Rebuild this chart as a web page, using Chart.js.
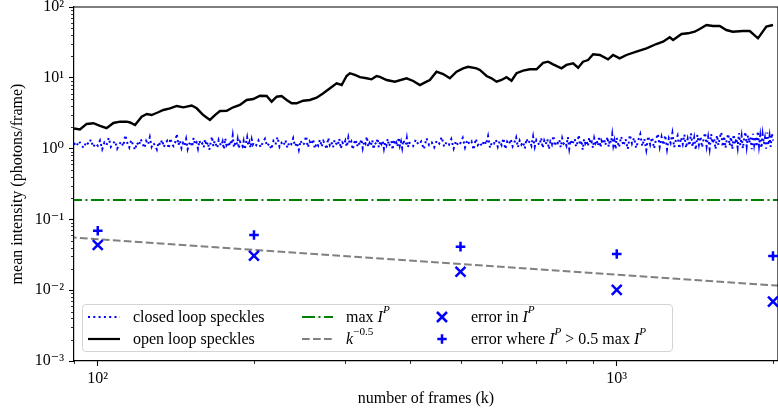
<!DOCTYPE html>
<html><head><meta charset="utf-8">
<script src="https://cdn.jsdelivr.net/npm/chart.js@4.4.1/dist/chart.umd.min.js"></script>
<style>
html,body{margin:0;padding:0;background:#fff;}
#wrap{position:relative;width:778px;height:408px;overflow:hidden;}
#c{position:absolute;left:0;top:0;}
#legend{position:absolute;left:82px;top:304px;width:591px;height:48px;box-sizing:border-box;border:1px solid #d4d4d4;border-radius:4px;background:rgba(255,255,255,0.8);font-family:'Liberation Serif','DejaVu Serif',serif;font-size:16px;color:#000;}
.item{position:absolute;height:20px;line-height:20px;white-space:nowrap;}
.h{position:absolute;}
sup{font-size:70%;position:relative;top:-0.2em;vertical-align:super;line-height:0;}
</style></head><body>
<div id="wrap"><canvas id="c" width="778" height="408"></canvas>
<div id="legend">
  <svg class="h" style="left:5px;top:6px" width="32" height="12"><line x1="0" y1="6" x2="32" y2="6" stroke="#0000ff" stroke-width="2" stroke-dasharray="2 3.3"/></svg>
  <div class="item" style="left:50px;top:2px">closed loop speckles</div>
  <svg class="h" style="left:5px;top:28px" width="32" height="12"><line x1="0" y1="6" x2="32" y2="6" stroke="#000" stroke-width="2.2"/></svg>
  <div class="item" style="left:50px;top:24px">open loop speckles</div>
  <svg class="h" style="left:219px;top:6px" width="31" height="12"><line x1="0" y1="6" x2="31" y2="6" stroke="#008000" stroke-width="2" stroke-dasharray="13 3.5 2 3.5"/></svg>
  <div class="item" style="left:263px;top:2px">max <i>I</i><sup><i>P</i></sup></div>
  <svg class="h" style="left:219px;top:28px" width="31" height="12"><line x1="0" y1="6" x2="31" y2="6" stroke="#808080" stroke-width="2" stroke-dasharray="7.7 3.3"/></svg>
  <div class="item" style="left:263px;top:24px"><i>k</i><sup>−0.5</sup></div>
  <svg class="h" style="left:353px;top:6px" width="12" height="12"><path d="M1,1 L11,11 M11,1 L1,11" stroke="#0000ff" stroke-width="2.5"/></svg>
  <div class="item" style="left:388px;top:2px">error in <i>I</i><sup><i>P</i></sup></div>
  <svg class="h" style="left:353px;top:28px" width="12" height="12"><path d="M6,1.3 L6,10.7 M1.3,6 L10.7,6" stroke="#0000ff" stroke-width="2.5"/></svg>
  <div class="item" style="left:388px;top:24px">error where <i>I</i><sup><i>P</i></sup> &gt; 0.5 max <i>I</i><sup><i>P</i></sup></div>
</div>
</div>
<script>
// ---- data ----
const closedK = [90,91,92,93,94,95,96,97,98,99,100,101,102,103,104,105,106,107,108,109,110,111,112,113,114,115,116,117,118,119,
120,121,122,123,124,125,126,127,128,129,130,131,132,133,134,135,136,137,138,139,140,141,142,143,144,145,146,147,148,149,
150,151,152,153,154,155,156,157,158,159,160,161,162,163,164,165,166,167,168,169,170,171,172,173,174,175,176,177,178,179,
180,181,182,183,184,185,186,187,188,189,190,191,192,193,194,195,196,197,198,199,200,
202,204,206,208,210,212,214,216,218,220,222,224,226,228,230,232,234,236,238,240,242,244,246,248,250,252,254,256,258,260,
262,264,266,268,270,272,274,276,278,280,282,284,286,288,290,292,294,296,298,300,302,304,306,308,310,312,314,316,318,320,
322,324,326,328,330,332,334,336,338,340,342,344,346,348,350,352,354,356,358,360,362,364,366,368,370,372,374,376,378,380,
382,384,386,388,390,392,394,396,398,400,
405,410,415,420,425,430,435,440,445,450,455,460,465,470,475,480,485,490,495,500,505,510,515,520,525,530,535,540,545,550,
555,560,565,570,575,580,585,590,595,600,605,610,615,620,625,630,635,640,645,650,655,660,665,670,675,680,685,690,695,700,
705,710,715,720,725,730,735,740,745,750,755,760,765,770,775,780,785,790,795,800,805,810,815,820,825,830,835,840,845,850,
855,860,865,870,875,880,885,890,895,900,905,910,915,920,925,930,935,940,945,950,955,960,965,970,975,980,985,990,995,1000,
1010,1020,1030,1040,1050,1060,1070,1080,1090,1100,1110,1120,1130,1140,1150,1160,1170,1180,1190,1200,
1210,1220,1230,1240,1250,1260,1270,1280,1290,1300,1310,1320,1330,1340,1350,1360,1370,1380,1390,1400,
1410,1420,1430,1440,1450,1460,1470,1480,1490,1500,1510,1520,1530,1540,1550,1560,1570,1580,1590,1600,
1610,1620,1630,1640,1650,1660,1670,1680,1690,1700,1710,1720,1730,1740,1750,1760,1770,1780,1790,1800,
1810,1820,1830,1840,1850,1860,1870,1880,1890,1900,1910,1920,1930,1940,1950,1960,1970,1980,1990,2000];
const closedI = [
1.20,1.08,1.28,1.12,1.02,1.25,1.15,1.34,1.05,1.18,
1.10,1.30,0.98,1.22,1.12,1.42,1.06,1.18,1.28,1.00,
1.15,1.26,1.08,1.55,1.20,1.04,1.32,1.12,0.96,1.22,
1.10,1.36,1.18,1.02,1.28,1.14,1.45,1.06,1.20,1.10,
0.97,1.24,1.12,1.33,1.05,1.18,1.28,1.00,1.40,1.15,
1.08,1.22,1.62,1.12,1.30,1.02,1.20,1.10,1.36,0.98,
1.16,1.26,1.06,1.42,1.14,1.22,1.00,1.30,1.12,1.18,
1.04,1.35,1.10,1.24,0.96,1.20,1.48,1.08,1.28,1.14,
1.02,1.32,1.18,1.10,1.26,0.98,1.40,1.12,1.22,1.06,
1.30,1.14,1.52,1.04,1.20,1.12,1.36,1.00,1.25,1.16,
1.08,1.28,0.97,1.20,1.44,1.10,1.24,1.02,1.34,1.14,1.22,
1.12,1.30,1.04,1.22,1.38,1.08,1.18,0.98,1.28,1.14,
1.46,1.06,1.20,1.10,1.32,1.02,1.24,1.16,1.40,1.08,
1.22,0.96,1.30,1.12,1.18,1.50,1.04,1.26,1.14,1.36,
1.00,1.20,1.10,1.34,1.06,1.28,1.16,0.98,1.42,1.12,
1.24,1.04,1.32,1.18,1.10,1.38,1.00,1.22,1.14,1.30,
1.06,1.44,1.16,1.26,0.97,1.20,1.34,1.08,1.24,1.12,
1.36,1.02,1.28,1.18,1.48,1.06,1.20,1.10,1.32,0.98,
1.22,1.14,1.40,1.04,1.26,1.16,1.30,1.00,1.24,1.12,
1.38,1.08,1.18,1.28,0.96,1.34,1.14,1.22,1.06,1.44,
1.10,1.26,1.02,1.32,1.18,1.12,1.40,1.04,1.24,1.16,
1.08,1.34,1.14,1.26,0.98,1.40,1.12,1.22,1.04,1.30,
1.18,1.46,1.06,1.24,1.14,1.36,1.00,1.28,1.10,1.20,
1.42,1.04,1.32,1.16,1.26,0.96,1.38,1.12,1.22,1.08,
1.30,1.14,1.50,1.02,1.24,1.18,1.34,1.06,1.28,1.12,
1.40,0.98,1.26,1.16,1.36,1.08,1.22,1.44,1.04,1.30,
1.14,1.24,1.00,1.38,1.18,1.28,1.10,1.48,1.06,1.32,
1.20,1.12,1.42,1.02,1.30,1.16,1.36,0.98,1.26,1.14,
1.52,1.08,1.28,1.20,1.34,1.04,1.40,1.18,1.24,1.10,
1.46,1.00,1.32,1.14,1.26,1.38,1.06,1.22,1.56,1.12,
1.30,0.96,1.36,1.18,1.28,1.08,1.44,1.16,1.24,1.02,
1.40,1.20,1.32,1.10,1.50,1.04,1.28,1.16,1.38,1.12,
1.26,1.46,1.06,1.34,1.20,1.58,1.10,1.30,0.98,1.42,
1.04,1.48,1.10,1.36,0.98,1.56,1.18,1.42,1.02,1.30,
1.60,1.08,1.38,0.96,1.50,1.14,1.44,1.00,1.34,1.62,
1.06,1.46,1.12,1.54,0.98,1.40,1.20,1.66,1.04,1.32,
1.52,1.00,1.44,1.16,1.58,1.02,1.38,1.10,1.64,1.06,
1.42,0.96,1.56,1.14,1.48,1.04,1.36,1.68,1.08,1.46,
1.00,1.60,1.18,1.40,0.98,1.54,1.12,1.44,1.70,1.06,
1.50,1.02,1.36,1.62,1.10,1.46,0.98,1.58,1.16,1.40,
1.04,1.66,1.12,1.50,1.00,1.42,1.72,1.08,1.54,1.20,
1.44,0.98,1.62,1.14,1.48,1.06,1.76,1.10,1.52,1.02,
1.58,1.16,1.42,1.00,1.68,1.12,1.50,1.06,1.64,1.30];
const openK = [90,92.4,95.2,98.1,101,104,107.2,110.4,113.7,115.4,118,121.5,124.3,127,130.8,133.8,137.8,142,146.2,151.7,155.1,159.7,164.5,168.2,172,177.2,182.4,187.9,193.6,199.4,205.4,211.6,216.3,221.2,226.1,231.2,236.4,241.6,248.8,256.3,264.1,272,280.2,288.6,295.1,301.6,306,312.9,320,329.6,337,344.6,349.7,360.2,373.7,393.6,405.4,417.6,430,436.4,449.5,463,476.9,491.3,505.8,517.2,536.9,544.8,561.3,573.8,586.7,599.8,613.2,626.9,641,660,680,700.5,721.3,737.5,754,782.6,800,824,842.5,861,880.6,900.5,927.6,962,983.8,1013,1044,1091,1141,1192,1228,1265,1284,1333,1372,1413,1445,1489,1532,1579,1626,1673,1748,1804,1871,1942,2000];
const openI = [1.92,1.86,2.23,2.28,2.09,1.94,2.30,2.40,2.40,2.34,2.15,2.82,3.08,2.98,3.26,3.51,3.71,4.0,3.83,4.06,3.71,2.98,2.54,2.98,3.40,3.43,3.83,4.13,4.86,5.02,5.59,5.53,4.60,5.41,5.53,4.86,4.36,4.36,4.75,4.86,5.24,6.04,7.11,8.36,7.91,10.6,11.6,10.96,10.2,9.84,9.52,10.6,10.3,9.31,8.81,9.84,9.01,7.91,8.81,9.31,12.2,11.3,9.84,12.2,13.6,14.3,13.6,12.9,10.6,9.84,8.81,9.31,10.2,9.10,11.6,12.6,13.2,13.2,16.3,16.9,15.5,13.6,15.2,16.0,13.9,16.9,17.8,21.5,21.0,18.2,21.0,18.8,21.0,23.4,26.1,30.0,32.4,37.3,34.2,41.6,42.5,44.8,48.9,55.7,53.9,53.9,47.3,44.8,45.8,45.8,36.1,53.0,55.7];
const maxIPK = [88, 2100];
const maxIP = [0.188, 0.188];
const powK = [88, 2100];
const powI = [0.0560, 0.01146];
const errK = [100, 200, 500, 1000, 2000];
const errIP = [0.0435, 0.0307, 0.0182, 0.0101, 0.0069];
const errHalf = [0.0692, 0.0602, 0.0412, 0.0325, 0.0304];
const xTicks = [100, 1000];
const xTickLabels = ['10²', '10³'];
const yTicks = [0.001, 0.01, 0.1, 1, 10, 100];
const yTickLabels = ['10⁻³', '10⁻²', '10⁻¹', '10⁰', '10¹', '10²'];
const xRange = [90, 2045];
const yRange = [0.001, 100];

const FONT = "'Liberation Serif','DejaVu Serif',serif";
const pts = (xs, ys) => xs.map((x, i) => ({x: x, y: ys[i]}));

const axisDecor = {
  id: 'axisDecor',
  afterDraw(chart) {
    const {ctx, chartArea: a, scales: {x, y}} = chart;
    ctx.save();
    ctx.strokeStyle = '#000';
    ctx.lineWidth = 1.2;
    ctx.beginPath();
    ctx.moveTo(a.left, a.top); ctx.lineTo(a.right, a.top);
    ctx.moveTo(a.right, a.top); ctx.lineTo(a.right, a.bottom);
    ctx.stroke();
    ctx.lineWidth = 0.8;
    ctx.beginPath();
    [10, 100, 1000].forEach(d => {
      for (let m = 2; m <= 9; m++) {
        const v = m * d;
        if (v < x.min || v > x.max) continue;
        const p = Math.round(x.getPixelForValue(v)) + 0.5;
        ctx.moveTo(p, a.bottom); ctx.lineTo(p, a.bottom + 3);
      }
    });
    [0.001, 0.01, 0.1, 1, 10].forEach(d => {
      for (let m = 2; m <= 9; m++) {
        const v = m * d;
        if (v < y.min || v > y.max) continue;
        const p = Math.round(y.getPixelForValue(v)) + 0.5;
        ctx.moveTo(a.left - 3, p); ctx.lineTo(a.left, p);
      }
    });
    ctx.stroke();
    ctx.restore();
  }
};

new Chart(document.getElementById('c'), {
  type: 'scatter',
  data: {
    datasets: [
      {label: 'closed loop speckles', data: pts(closedK, closedI), showLine: true, borderColor: '#0000ff', borderWidth: 2, borderDash: [2, 3.3], pointRadius: 0, pointHoverRadius: 0, order: 6},
      {label: 'open loop speckles', data: pts(openK, openI), showLine: true, borderColor: '#000000', borderWidth: 2.4, pointRadius: 0, pointHoverRadius: 0, order: 5},
      {label: 'max I^P', data: pts(maxIPK, maxIP), showLine: true, borderColor: '#008000', borderWidth: 2, borderDash: [13, 3.5, 2, 3.5], pointRadius: 0, pointHoverRadius: 0, order: 4},
      {label: 'k^-0.5', data: pts(powK, powI), showLine: true, borderColor: '#808080', borderWidth: 2, borderDash: [7.7, 3.3], pointRadius: 0, pointHoverRadius: 0, order: 3},
      {label: 'error in I^P', data: pts(errK, errIP), showLine: false, pointStyle: 'crossRot', pointRadius: 7, pointBorderColor: '#0000ff', borderColor: '#0000ff', pointBorderWidth: 2.5, order: 2},
      {label: 'error where I^P > 0.5 max I^P', data: pts(errK, errHalf), showLine: false, pointStyle: 'cross', pointRadius: 4.8, pointBorderColor: '#0000ff', borderColor: '#0000ff', pointBorderWidth: 2.5, order: 1}
    ]
  },
  options: {
    responsive: false,
    animation: false,
    devicePixelRatio: 1,
    events: [],
    layout: {autoPadding: false, padding: {top: 7, left: 0, right: 0, bottom: 0}},
    plugins: {legend: {display: false}, tooltip: {enabled: false}},
    scales: {
      x: {
        type: 'logarithmic', min: xRange[0], max: xRange[1], bounds: 'data',
        afterBuildTicks: s => { s.ticks = xTicks.map(v => ({value: v})); },
        afterFit: s => { s.height = 47; s.paddingLeft = 0; s.paddingRight = 0; },
        ticks: {callback: (v, i) => xTickLabels[i], autoSkip: false, maxRotation: 0, minRotation: 0, padding: 3, color: '#000', font: {family: FONT, size: 16}},
        grid: {drawOnChartArea: false, drawTicks: true, tickLength: 5, tickWidth: 1.1, tickColor: '#000'},
        border: {display: true, color: '#000', width: 1.2},
        title: {display: true, text: 'number of frames (k)', color: '#000', font: {family: FONT, size: 16}, padding: {top: 0, bottom: 0}}
      },
      y: {
        type: 'logarithmic', min: yRange[0], max: yRange[1], bounds: 'data',
        afterBuildTicks: s => { s.ticks = yTicks.map(v => ({value: v})); },
        afterFit: s => { s.width = 74; s.paddingTop = 0; s.paddingBottom = 0; },
        ticks: {callback: (v, i) => yTickLabels[i], autoSkip: false, padding: 5, color: '#000', font: {family: FONT, size: 16}},
        grid: {drawOnChartArea: false, drawTicks: true, tickLength: 5, tickWidth: 1.1, tickColor: '#000'},
        border: {display: true, color: '#000', width: 1.2},
        title: {display: true, text: 'mean intensity (photons/frame)', color: '#000', font: {family: FONT, size: 16}, padding: {top: 8, bottom: 0}}
      }
    }
  },
  plugins: [axisDecor]
});
</script>
</body></html>
